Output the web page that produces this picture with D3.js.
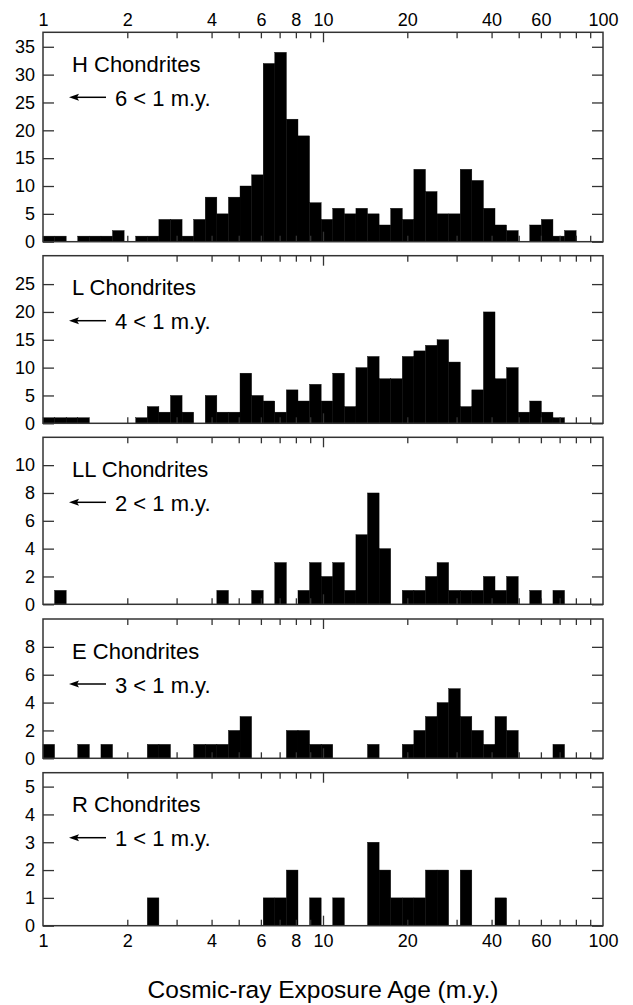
<!DOCTYPE html>
<html>
<head>
<meta charset="utf-8">
<script src="https://cdn.jsdelivr.net/npm/d3@7"></script>
<style>
  body { margin: 0; background: #fff; }
  svg text { font-family: "Liberation Sans", Arial, Helvetica, sans-serif; fill: #000; }
</style>
</head>
<body>
<div id="chart"></div>
<script>
// histogram counts per bin, bins are geometric with ratio 1.1 starting at 1 m.y.
var hCounts  = [1,1,0,1,1,1,2,0,1,1, 4,4,1,4,8,5,8,10,12,32, 34,22,19,7,4,6,5,6,5,3, 6,4,13,9,5,5,13,11,6,3, 2,0,3,4,1,2,0,0,0];
var lCounts  = [1,1,1,1,0,0,0,0,1,3, 2,5,2,0,5,2,2,9,5,4, 2,6,4,7,4,9,3,10,12,8, 8,12,13,14,15,11,3,6,20,8, 10,2,4,2,1,0,0,0,0];
var llCounts = [0,1,0,0,0,0,0,0,0,0, 0,0,0,0,0,1,0,0,1,0, 3,0,1,3,2,3,1,5,8,4, 0,1,1,2,3,1,1,1,2,1, 2,0,1,0,1,0,0,0,0];
var eCounts  = [1,0,0,1,0,1,0,0,0,1, 1,0,0,1,1,1,2,3,0,0, 0,2,2,1,1,0,0,0,1,0, 0,1,2,3,4,5,3,2,1,3, 2,0,0,0,1,0,0,0,0];
var rCounts  = [0,0,0,0,0,0,0,0,0,1, 0,0,0,0,0,0,0,0,0,1, 1,2,0,1,0,1,0,0,3,2, 1,1,1,2,2,0,2,0,0,1, 0,0,0,0,0,0,0,0,0];

var panelNames = ["H Chondrites", "L Chondrites", "LL Chondrites", "E Chondrites", "R Chondrites"];
var youngCounts = [6, 4, 2, 3, 1];
var yMaxes = [37.6, 30.1, 12, 10, 5.5];
var yTickTops = [35, 25, 10, 8, 5];
var yTickSteps = [5, 5, 2, 2, 1];
var xLabelTicks = [1, 2, 4, 6, 8, 10, 20, 40, 60, 100];
var xMinorTicks = [2, 3, 4, 5, 6, 7, 8, 9, 20, 30, 40, 50, 60, 70, 80, 90];
var xMajorTicks = [10];
var binRatio = 1.1;

var allCounts = [hCounts, lCounts, llCounts, eCounts, rCounts];

// panel boxes (top, bottom) in page pixels
var panelTops = [32.3, 255.7, 437.3, 619, 772.7];
var panelBottoms = [241.7, 423.3, 604.3, 758.3, 925.7];

var W = 633, H = 1005;
var left = 43, right = 603;

var svg = d3.select("#chart").append("svg")
    .attr("width", W)
    .attr("height", H);

var x = d3.scaleLog().domain([1, 100]).range([left, right]);

allCounts.forEach(function (counts, p) {
    var top = panelTops[p], bottom = panelBottoms[p];
    var y = d3.scaleLinear().domain([0, yMaxes[p]]).range([bottom, top]);

    var bins = counts.map(function (c, k) {
        return {x0: Math.pow(binRatio, k), x1: Math.pow(binRatio, k + 1), n: c};
    });

    var g = svg.append("g");

    // bars
    g.selectAll("rect.bar")
        .data(bins.filter(function (d) { return d.n > 0; }))
        .enter().append("rect")
        .attr("class", "bar")
        .attr("x", function (d) { return x(d.x0); })
        .attr("width", function (d) { return Math.min(x(d.x1), right) - x(d.x0); })
        .attr("y", function (d) { return y(d.n); })
        .attr("height", function (d) { return bottom - y(d.n); })
        .attr("fill", "#000")
        .attr("stroke", "#000")
        .attr("stroke-width", 0.4);

    // y ticks, left with labels, right without
    var yt = d3.range(0, yTickTops[p] + yTickSteps[p] / 2, yTickSteps[p]);
    g.append("g")
        .attr("transform", "translate(" + left + ",0)")
        .call(d3.axisLeft(y).tickValues(yt).tickSizeInner(-11).tickSizeOuter(0).tickPadding(8).tickFormat(d3.format("d")))
        .call(styleAxis);
    g.append("g")
        .attr("transform", "translate(" + right + ",0)")
        .call(d3.axisRight(y).tickValues(yt).tickSizeInner(-11).tickSizeOuter(0).tickFormat(""))
        .call(styleAxis);

    // x ticks on top and bottom edges, pointing inward
    g.append("g")
        .attr("transform", "translate(0," + top + ")")
        .call(d3.axisTop(x).tickValues(xMinorTicks).tickSizeInner(-6).tickSizeOuter(0).tickFormat(""))
        .call(styleAxis);
    g.append("g")
        .attr("transform", "translate(0," + top + ")")
        .call(d3.axisTop(x).tickValues(xMajorTicks).tickSizeInner(-10).tickSizeOuter(0).tickFormat(""))
        .call(styleAxis);
    g.append("g")
        .attr("transform", "translate(0," + bottom + ")")
        .call(d3.axisBottom(x).tickValues(xMinorTicks).tickSizeInner(-6).tickSizeOuter(0).tickFormat(""))
        .call(styleAxis);
    g.append("g")
        .attr("transform", "translate(0," + bottom + ")")
        .call(d3.axisBottom(x).tickValues(xMajorTicks).tickSizeInner(-10).tickSizeOuter(0).tickFormat(""))
        .call(styleAxis);

    // x labels only on the first and last panel
    if (p === 0) {
        g.append("g")
            .attr("transform", "translate(0," + top + ")")
            .call(d3.axisTop(x).tickValues(xLabelTicks).tickSize(0).tickPadding(6).tickFormat(d3.format("d")))
            .call(styleAxis);
    }
    if (p === allCounts.length - 1) {
        g.append("g")
            .attr("transform", "translate(0," + bottom + ")")
            .call(d3.axisBottom(x).tickValues(xLabelTicks).tickSize(0).tickPadding(9).tickFormat(d3.format("d")))
            .call(styleAxis);
    }

    // frame
    g.append("rect")
        .attr("x", left)
        .attr("y", top)
        .attr("width", right - left)
        .attr("height", bottom - top)
        .attr("fill", "none")
        .attr("stroke", "#333")
        .attr("stroke-width", 1.5);

    // panel title and note
    g.append("text")
        .attr("x", 72)
        .attr("y", top + 39.5)
        .style("font-size", "22px")
        .text(panelNames[p]);

    var ay = top + 65;
    g.append("line")
        .attr("x1", 75).attr("x2", 106)
        .attr("y1", ay).attr("y2", ay)
        .attr("stroke", "#000")
        .attr("stroke-width", 1.5);
    g.append("path")
        .attr("d", "M69," + ay + "L79," + (ay - 3.5) + "L77," + ay + "L79," + (ay + 3.5) + "Z")
        .attr("fill", "#000");
    g.append("text")
        .attr("x", 115)
        .attr("y", top + 73.7)
        .style("font-size", "22px")
        .text(youngCounts[p] + " < 1 m.y.");
});

function styleAxis(sel) {
    sel.select(".domain").remove();
    sel.selectAll(".tick line").attr("stroke", "#333").attr("stroke-width", 1.3);
    sel.selectAll(".tick text").style("font-size", "18px").attr("fill", "#000");
}

// axis title
svg.append("text")
    .attr("x", (left + right) / 2)
    .attr("y", 997.5)
    .attr("text-anchor", "middle")
    .style("font-size", "24.5px")
    .text("Cosmic-ray Exposure Age (m.y.)");
</script>
</body>
</html>
